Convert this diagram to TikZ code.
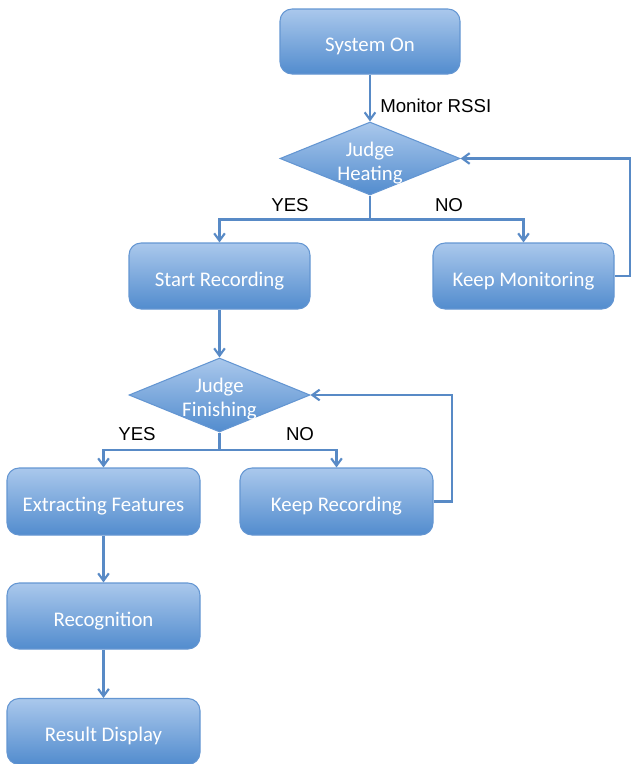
\documentclass[tikz,border=0pt]{standalone}
\usepackage{fontspec}
\setmainfont{Carlito}
\newfontfamily\lblfont{Liberation Sans}
\usetikzlibrary{shapes.geometric,arrows.meta}
\definecolor{topblue}{RGB}{170,200,236}
\definecolor{botblue}{RGB}{82,140,206}
\definecolor{edgeblue}{RGB}{100,150,210}
\definecolor{lineblue}{RGB}{88,138,198}
\tikzset{
  box/.style={rectangle, rounded corners=9pt, draw=edgeblue, line width=0.8pt,
    top color=topblue, bottom color=botblue, inner sep=0pt,
    text=white, font=\fontsize{15.6}{18}\selectfont, align=center,
    text height=15pt, text depth=0pt},
  dia/.style={diamond, draw=edgeblue, line width=0.8pt, shading=axis,
    top color=topblue, bottom color=botblue, inner sep=0pt},
  diatext/.style={text=white, font=\fontsize{15.6}{18.5}\selectfont, align=center, inner sep=0pt},
  arr/.style={draw=lineblue, line width=2pt, -{Straight Barb[length=5.5pt,width=8pt,line width=1.6pt]}},
  conn/.style={draw=lineblue, line width=2pt},
  lbl/.style={font=\lblfont\fontsize{14}{16}\selectfont, text=black, inner sep=0pt}
}
\begin{document}
\begin{tikzpicture}[x=0.75pt,y=-0.75pt]
\useasboundingbox (0,0) rectangle (632,764);
% boxes
\node[box, minimum width=135pt, minimum height=48.75pt] (sys) at (370,41.5) {System On};
\node[dia, minimum width=135pt, minimum height=54.75pt] (jh) at (370,158.5) {};
\node[diatext] (jht) at (370,163) {Judge\\Heating};
\node[box, minimum width=135.75pt, minimum height=49.5pt] (sr) at (219.5,276) {Start Recording};
\node[box, minimum width=135.75pt, minimum height=49.5pt] (km) at (523.5,276) {Keep Monitoring};
\node[dia, minimum width=135.75pt, minimum height=55.5pt] (jf) at (219.5,395) {};
\node[diatext] (jft) at (219.5,399) {Judge\\Finishing};
\node[box, minimum width=144.75pt, minimum height=50.25pt] (ef) at (103.5,501.5) {Extracting Features};
\node[box, minimum width=144.75pt, minimum height=50.25pt] (kr) at (336.5,501.5) {Keep Recording};
\node[box, minimum width=144.75pt, minimum height=49.5pt] (rec) at (103.5,616) {Recognition};
\node[box, minimum width=144.75pt, minimum height=49.5pt] (rd) at (103.5,731.5) {Result Display};
% labels
\node[lbl, anchor=west] (mon) at (380,106) {Monitor RSSI};
\node[lbl] (yes1) at (290,205) {YES};
\node[lbl] (no1) at (449,205) {NO};
\node[lbl] (yes2) at (137,434) {YES};
\node[lbl] (no2) at (300,434) {NO};
% junctions
\coordinate (b1) at (370,219.5);
\coordinate (b2) at (219.5,450);
\coordinate (l1) at (630,0);
\coordinate (l2) at (452,0);
% connectors
\draw[arr] (sys.south) -- (jh.north);
\draw[conn] (jh.south) -- (b1);
\draw[arr] (b1) -| (sr.north);
\draw[arr] (b1) -| (km.north);
\draw[arr] (km.east) -- (km.east -| l1) |- (jh.east);
\draw[arr] (sr.south) -- (jf.north);
\draw[conn] (jf.south) -- (b2);
\draw[arr] (b2) -| (ef.north);
\draw[arr] (b2) -| (kr.north);
\draw[arr] (kr.east) -- (kr.east -| l2) |- (jf.east);
\draw[arr] (ef.south) -- (rec.north);
\draw[arr] (rec.south) -- (rd.north);
\end{tikzpicture}
\end{document}
